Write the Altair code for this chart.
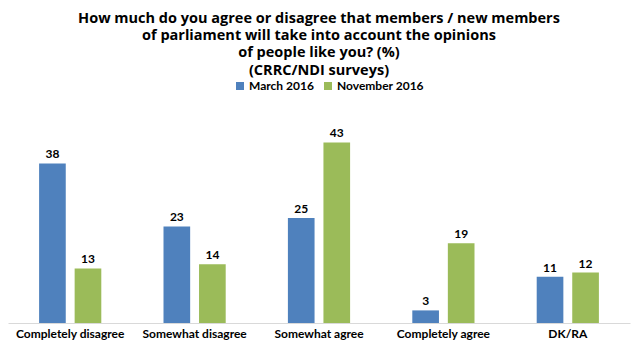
import altair as alt
import pandas as pd

categories = ["Completely disagree", "Somewhat disagree", "Somewhat agree", "Completely agree", "DK/RA"]
series = ["March 2016", "November 2016"]
march = [38, 23, 25, 3, 11]
november = [13, 14, 43, 19, 12]
colors = ["#4F81BD", "#9BBB59"]

rows = []
for c, m, n in zip(categories, march, november):
    rows.append({"cat": c, "survey": series[0], "val": m})
    rows.append({"cat": c, "survey": series[1], "val": n})
df = pd.DataFrame(rows)

FONT = "Lato"

x = alt.X("cat:N", sort=categories, title=None,
          scale=alt.Scale(paddingInner=0.5, paddingOuter=0.25),
          axis=alt.Axis(labelAngle=0, labelFont=FONT, labelFontWeight="bold",
                        labelFontSize=12, labelColor="#000000", ticks=False,
                        domainColor="#D9D9D9", labelPadding=5))
xo = alt.XOffset("survey:N", sort=series, scale=alt.Scale(paddingInner=0.25))
y = alt.Y("val:Q", scale=alt.Scale(domain=[0, 45]), axis=None)

base = alt.Chart(df).encode(x=x, xOffset=xo, y=y)

bars = base.mark_bar().encode(
    color=alt.Color("survey:N", sort=series,
                    scale=alt.Scale(domain=series, range=colors),
                    legend=alt.Legend(title=None, orient="none", direction="horizontal",
                                      legendX=226, legendY=-54,
                                      labelFont=FONT, labelFontWeight="bold",
                                      labelFontSize=12, labelColor="#000000",
                                      symbolType="square", symbolSize=64,
                                      symbolStrokeWidth=0, labelOffset=3,
                                      columnPadding=8))
)
labels = base.mark_text(dy=-9, font=FONT, fontWeight="bold", fontSize=12, color="#000000").encode(
    text="val:Q")

chart = (bars + labels).properties(
    width=622, height=189,
    padding={"left": 0, "right": 2, "top": 2, "bottom": 5},
    title=alt.Title(
        ["How much do you agree or disagree that members / new members",
         "of parliament will take into account the opinions",
         "of people like you? (%)",
         "(CRRC/NDI surveys)"],
        font="Open Sans", fontSize=14.5, fontWeight="bold", color="#000000",
        lineHeight=17.4, anchor="middle", offset=1.8)
).configure_view(stroke=None)

chart.save("out.html", embed_options={"renderer": "svg", "actions": False})
